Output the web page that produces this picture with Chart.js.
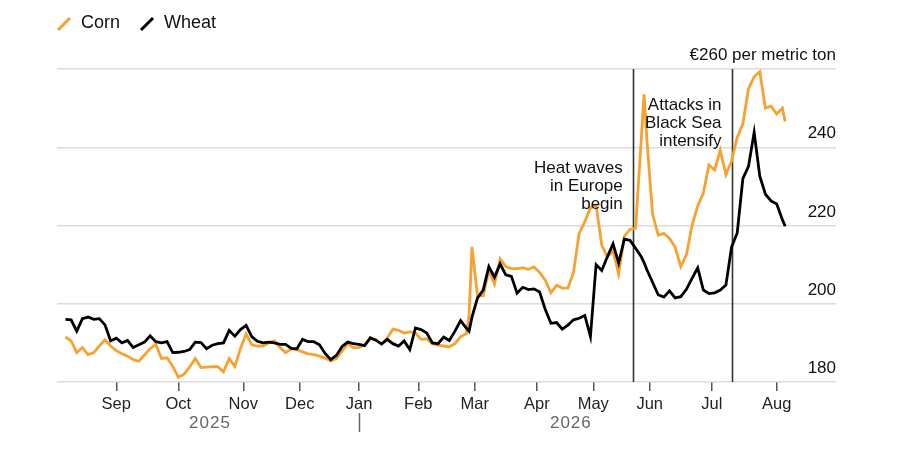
<!DOCTYPE html>
<html>
<head>
<meta charset="utf-8">
<script src="https://cdn.jsdelivr.net/npm/chart.js@4.4.1/dist/chart.umd.min.js"></script>
<style>
  html, body { margin: 0; padding: 0; background: #fff; }
  #wrap { width: 900px; height: 452px; position: relative; }
</style>
</head>
<body>
<div id="wrap"><canvas id="myChart"></canvas></div>
<script>
// trading days counted from 1 Aug 2025 (weekends and exchange holidays skipped)
const tradingDay = [
  3, 5, 7, 9, 11, 13, 15, 17, 19, 21, 23, 25, 27, 29, 31, 33, 35, 37, 39, 41,
  43, 45, 47, 49, 51, 53, 55, 57, 59, 61, 63, 65, 67, 69, 71, 73, 75, 77, 79, 81,
  83, 85, 87, 89, 91, 93, 95, 97, 99, 101, 103, 105, 107, 109, 111, 113, 115, 117, 119, 121,
  123, 125, 127, 129, 131, 133, 135, 137, 139, 141, 143, 145, 146,
  147, 149, 151, 153, 155, 157, 159, 161, 163, 165, 167, 169, 171, 173, 175, 177, 179, 181, 183, 185,
  187, 189, 191, 193, 195, 197, 199, 201, 203, 205, 207, 208,
  209, 211, 213, 215, 217, 219, 221, 223, 225, 227, 229, 231, 233, 235, 237, 239, 241, 243, 245, 247,
  249, 251, 253, 255, 257, 258
];

const corn = [
  191.5, 190.5, 187.5, 188.8, 187, 187.5, 189.2, 190.8, 189.2, 188,
  187.2, 186.6, 185.7, 185.3, 186.9, 188.5, 189.6, 186, 186.2, 184,
  181.2, 182, 183.8, 186, 183.7, 183.8, 183.9, 183.9, 182.6, 186,
  184, 188.5, 192.3, 189.5, 189.2, 189.2, 190, 190.5, 188.8, 187.5,
  188.5, 188.2, 187.7, 187.2, 187, 186.6, 186.1, 185.4, 186, 187.9,
  189.8, 188.8, 188.8, 189.5, 191, 190.8, 189.7, 191.2, 193.5, 193.2,
  192.5, 192.8, 192.5, 190.9, 191, 189.8, 189.4, 189.2, 189, 189.8,
  191.6, 192.3, 197,
  214.5, 202, 202, 208.5, 205, 211.5, 209.5, 209, 209, 209.2,
  208.8, 209.4, 208, 206, 202.8, 204.7, 204, 204, 208, 218,
  221, 224.5, 225.2, 215, 212, 213.5, 207.6, 217.2, 219, 219.3, 242,
  253.5,
  242, 223, 217.5, 218, 216.7, 214.5, 209.5, 212.5, 220, 225,
  228.3, 235.5, 234.2, 239.2, 233, 236.5, 242.5, 246, 255, 258,
  259.3, 250, 250.5, 248.5, 250, 246.6
];

const wheat = [
  196, 195.9, 193, 196.2, 196.6, 196, 196.2, 194.6, 190.5, 191.2,
  190, 190.6, 188.8, 189.5, 190.2, 191.8, 190.3, 190, 190.3, 187.5,
  187.6, 187.8, 188.3, 190.2, 190.1, 188.5, 189.4, 189.8, 190, 193.2,
  191.7, 193.4, 194.5, 191.6, 190.4, 190, 190.2, 190, 189.6, 189.6,
  188.6, 188.5, 190.9, 190.3, 190.3, 189.5, 187.3, 185.7, 186.8, 189.1,
  190.2, 189.8, 189.6, 189.3, 191.3, 190.7, 189.7, 190.9, 189.8, 189.2,
  190.5, 188.3, 193.8, 193.4, 192.5, 190, 189.8, 191.5, 190.6, 193,
  195.7, 193.8, 193,
  196.5, 201.5, 203.5, 209.5, 206.8, 210.2, 207.4, 207, 202.7, 204.2,
  203.6, 203.8, 203, 198.5, 195, 195.2, 193.5, 194.5, 195.9, 196.3,
  197, 191.6, 210, 208.5, 212, 215.3, 210.4, 216.5, 216.2, 214.2, 212,
  210.5,
  208.7, 205.5, 202.3, 201.7, 203.3, 201.5, 201.8, 203.7, 206.5, 209.2,
  203.5, 202.6, 202.8, 203.5, 204.8, 214.5, 218.1, 232, 235.1, 243.8,
  232.6, 228, 226.3, 225.5, 221.5, 219.8
];

const monthKeys = ['2025-09', '2025-10', '2025-11', '2025-12', '2026-01', '2026-02', '2026-03',
  '2026-04', '2026-05', '2026-06', '2026-07', '2026-08'];
const monthLabels = ['Sep', 'Oct', 'Nov', 'Dec', 'Jan', 'Feb', 'Mar', 'Apr', 'May', 'Jun', 'Jul', 'Aug'];
const yTicks = [180, 200, 220, 240, 260];
const holidays = ['2025-12-25', '2025-12-26', '2026-01-01', '2026-04-03', '2026-04-06', '2026-05-01'];

const events = [
  { date: '2026-05-22', lines: ['Heat waves', 'in Europe', 'begin'] },
  { date: '2026-07-10', lines: ['Attacks in', 'Black Sea', 'intensify'] }
];

const ORANGE = '#f8a130';
const BLACK = '#000000';
const FONT = "'Liberation Sans', Arial, sans-serif";

function buildCalendar(start, end) {
  const out = [];
  const d = new Date(start + 'T00:00:00Z');
  const e = new Date(end + 'T00:00:00Z');
  while (d <= e) {
    const wd = d.getUTCDay();
    const s = d.toISOString().slice(0, 10);
    if (wd !== 0 && wd !== 6 && !holidays.includes(s)) out.push(s);
    d.setUTCDate(d.getUTCDate() + 1);
  }
  return out;
}

const calendar = buildCalendar('2025-08-01', '2026-08-31');
const monthTicks = monthKeys.map(k => calendar.findIndex(s => s.startsWith(k)));

const extras = {
  id: 'extras',
  beforeDatasetsDraw(chart) {
    const { ctx, chartArea, scales } = chart;
    ctx.save();
    ctx.strokeStyle = '#333';
    ctx.lineWidth = 1.6;
    events.forEach(ev => {
      const x = Math.round(scales.x.getPixelForValue(calendar.indexOf(ev.date))) + 0.5;
      ctx.beginPath();
      ctx.moveTo(x, chartArea.top);
      ctx.lineTo(x, chartArea.bottom);
      ctx.stroke();
    });
    ctx.restore();
  },
  afterDraw(chart) {
    const { ctx, scales } = chart;
    ctx.save();
    // annotations
    ctx.font = '17px ' + FONT;
    ctx.fillStyle = '#111';
    ctx.textAlign = 'right';
    ctx.textBaseline = 'middle';
    const tops = [168, 105];
    events.forEach((ev, n) => {
      const x = scales.x.getPixelForValue(calendar.indexOf(ev.date)) - 10;
      ev.lines.forEach((t, i) => ctx.fillText(t, x, tops[n] + i * 18));
    });

    // legend
    const items = [
      { label: 'Corn', color: ORANGE, x: 57 },
      { label: 'Wheat', color: BLACK, x: 140 }
    ];
    ctx.textAlign = 'left';
    items.forEach(it => {
      ctx.strokeStyle = it.color;
      ctx.lineWidth = 3;
      ctx.lineCap = 'butt';
      ctx.beginPath();
      ctx.moveTo(it.x + 1, 30);
      ctx.lineTo(it.x + 13, 18);
      ctx.stroke();
      ctx.fillStyle = '#111';
      ctx.font = '18px ' + FONT;
      ctx.fillText(it.label, it.x + 24, 23);
    });

    // years under the months
    const janX = scales.x.getPixelForValue(monthTicks[4]);
    const augX = scales.x.getPixelForValue(monthTicks[11]);
    const startX = scales.x.getPixelForValue(0);
    ctx.fillStyle = '#666';
    ctx.font = '17px ' + FONT;
    ctx.textAlign = 'center';
    ctx.letterSpacing = '1px';
    ctx.fillText('2025', (startX + janX) / 2 + 2, 423);
    ctx.fillText('2026', (janX + augX) / 2 + 3, 423);
    ctx.strokeStyle = '#666';
    ctx.lineWidth = 1.5;
    ctx.beginPath();
    ctx.moveTo(Math.round(janX) + 0.5, 413);
    ctx.lineTo(Math.round(janX) + 0.5, 432);
    ctx.stroke();
    ctx.restore();
  }
};

function drawChart() {
  const ctx = document.getElementById('myChart').getContext('2d');

  new Chart(ctx, {
    type: 'line',
    data: {
      datasets: [
        {
          label: 'Corn',
          data: tradingDay.map((d, i) => ({ x: d, y: corn[i] })),
          borderColor: ORANGE,
          borderWidth: 2.8,
          pointRadius: 0,
          tension: 0,
          order: 2
        },
        {
          label: 'Wheat',
          data: tradingDay.map((d, i) => ({ x: d, y: wheat[i] })),
          borderColor: BLACK,
          borderWidth: 2.8,
          pointRadius: 0,
          tension: 0,
          order: 1
        }
      ]
    },
    options: {
      responsive: true,
      maintainAspectRatio: false,
      animation: false,
      layout: { padding: { left: 57, right: 64, top: 69, bottom: 0 } },
      plugins: {
        legend: { display: false },
        tooltip: { enabled: false }
      },
      scales: {
        x: {
          type: 'linear',
          min: 0,
          max: 276,
          afterBuildTicks: axis => { axis.ticks = monthTicks.map(v => ({ value: v })); },
          afterFit: axis => { axis.height = 70; },
          grid: {
            drawOnChartArea: false,
            drawTicks: true,
            tickLength: 9,
            color: '#555',
            lineWidth: 1.5
          },
          border: { display: false },
          ticks: {
            autoSkip: false,
            maxRotation: 0,
            padding: 4,
            color: '#222',
            font: { family: FONT, size: 16.5 },
            callback: v => monthLabels[monthTicks.indexOf(v)]
          }
        },
        y: {
          position: 'right',
          min: 180,
          max: 260,
          afterBuildTicks: axis => { axis.ticks = yTicks.map(v => ({ value: v })); },
          grid: { color: '#dcdcdc', lineWidth: 1.5, drawTicks: false },
          border: { display: false },
          ticks: {
            mirror: true,
            padding: 0,
            labelOffset: -13.5,
            color: '#111',
            font: { family: FONT, size: 17 },
            callback: v => (v === 260 ? '€260 per metric ton' : v)
          }
        }
      }
    },
    plugins: [extras]
  });
}

document.addEventListener('DOMContentLoaded', drawChart);
</script>
</body>
</html>
